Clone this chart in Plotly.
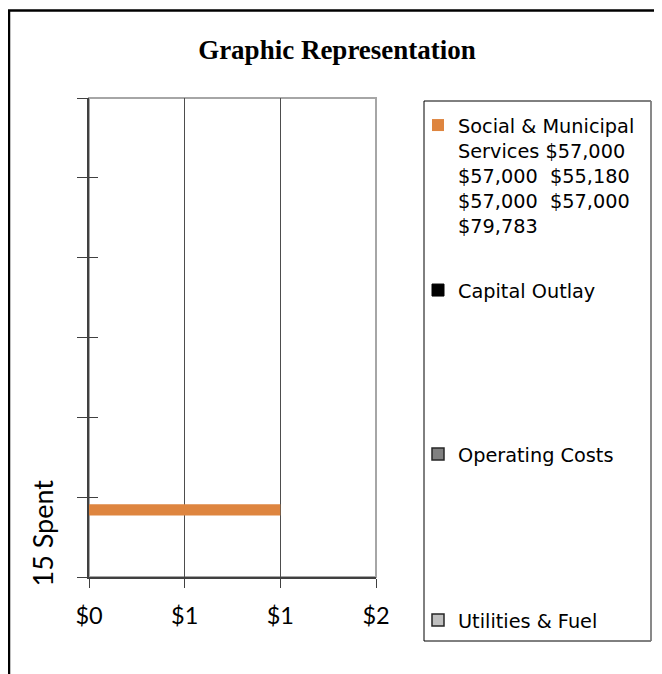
import plotly.graph_objects as go

# ---- data ----
series_names = [
    "Social & Municipal<br>Services $57,000<br>$57,000\u00a0 $55,180<br>$57,000\u00a0 $57,000<br>$79,783",
    "Capital Outlay",
    "Operating Costs",
    "Utilities & Fuel",
]
category_index = [0]
social_values = [1]
capital_values = [None]
operating_values = [None]
utilities_values = [None]
series_values = [social_values, capital_values, operating_values, utilities_values]
x_tick_values = [0, 0.5, 1, 1.5]
y_title = "15 Spent"
chart_title = "Graphic Representation"

# ---- styling ----
colors = ["#DE853F", "#000000", "#808080", "#C0C0C0"]
line_colors = ["#DE853F", "#000000", "#262626", "#262626"]
line_widths = [0, 1, 1.5, 1.5]

OFF = 8  # browser body margin
W, H = 662 - OFF, 674 - OFF
# plot area in reference-picture pixels
PL, PR, PT, PB = 89, 376, 98, 577


def px(x):
    return (x - PL) / (PR - PL)


def py(y):
    return (PB - y) / (PB - PT)


fig = go.Figure()
legend_ids = ["legend", "legend2", "legend3", "legend4"]
for name, vals, c, lc, lw, lg in zip(series_names, series_values, colors,
                                     line_colors, line_widths, legend_ids):
    fig.add_trace(go.Bar(
        x=vals, y=category_index, orientation="h", name=name,
        marker=dict(color=c, line=dict(color=lc, width=lw)),
        width=0.14, offset=0.27, legend=lg, hoverinfo="skip",
    ))

# invisible trace for second y axis (inner tick marks)
fig.add_trace(go.Scatter(x=[None], y=[None], yaxis="y2", showlegend=False,
                         hoverinfo="skip"))

legend_tops = [106, 271, 435, 601]
legend_font = dict(family="DejaVu Sans", size=19.3, color="#000000")
layout_legends = {}
for lg, top in zip(legend_ids, legend_tops):
    layout_legends[lg] = dict(
        x=px(418), y=py(top), xanchor="left", yanchor="top",
        bgcolor="rgba(0,0,0,0)", borderwidth=0, font=legend_font,
        valign="top", itemclick=False, itemdoubleclick=False,
    )

fig.update_layout(
    width=W, height=H,
    margin=dict(l=PL - OFF, r=W - (PR - OFF), t=PT - OFF, b=H - (PB - OFF), pad=0),
    paper_bgcolor="white", plot_bgcolor="white",
    showlegend=True,
    title=dict(text=chart_title, x=(337 - OFF) / W, xref="container",
               xanchor="center", y=1 - (50 - OFF) / H, yref="container",
               yanchor="middle",
               font=dict(family="Liberation Serif", size=27, color="#000000",
                         weight="bold")),
    xaxis=dict(range=[0, 1.5], tickvals=x_tick_values, tickformat="$.0f",
               ticks="outside", ticklen=9, tickcolor="#404040", tickwidth=1,
               ticklabelstandoff=8,
               showgrid=True, gridcolor="#4d4d4d", gridwidth=1.2,
               showline=True, linecolor="#404040", linewidth=2,
               zeroline=False,
               tickfont=dict(family="Lato", size=23.5, color="#000000")),
    yaxis=dict(range=[-0.5, 5.5], tick0=-0.5, dtick=1, ticks="outside",
               ticklen=10, tickcolor="#404040", tickwidth=1.2,
               showticklabels=False, showgrid=False, zeroline=False,
               showline=True, linecolor="#404040", linewidth=2),
    yaxis2=dict(range=[-0.5, 5.5], tick0=-0.5, dtick=1, ticks="inside",
                ticklen=9, tickcolor="#404040", tickwidth=1.2,
                overlaying="y", side="left", anchor="x",
                showticklabels=False, showgrid=False, zeroline=False,
                showline=False),
    **layout_legends,
)

# plot-area border (top/right light grey)
fig.add_shape(type="rect", xref="paper", yref="paper", x0=0, x1=1, y0=0, y1=1,
              line=dict(color="#a6a6a6", width=2), layer="below")
# legend box
fig.add_shape(type="rect", xref="paper", yref="paper",
              x0=px(424), x1=px(651), y0=py(641), y1=py(101),
              line=dict(color="#000000", width=1), layer="below")
fig.add_shape(type="line", xref="paper", yref="paper",
              x0=px(651), x1=px(651), y0=py(641), y1=py(101),
              line=dict(color="#8c8c8c", width=1.5), layer="below")
# outer chart frame (cropped at right and bottom)
fig.add_shape(type="rect", xref="paper", yref="paper",
              x0=px(9), x1=px(720), y0=py(720), y1=py(10.5),
              line=dict(color="#000000", width=2.5), layer="below")

fig.add_annotation(text=y_title, textangle=-90, showarrow=False,
                   xref="paper", yref="paper", x=px(42), y=py(589),
                   xanchor="center", yanchor="bottom",
                   font=dict(family="Lato", size=27, color="#000000"))

fig.write_html("out.html")
